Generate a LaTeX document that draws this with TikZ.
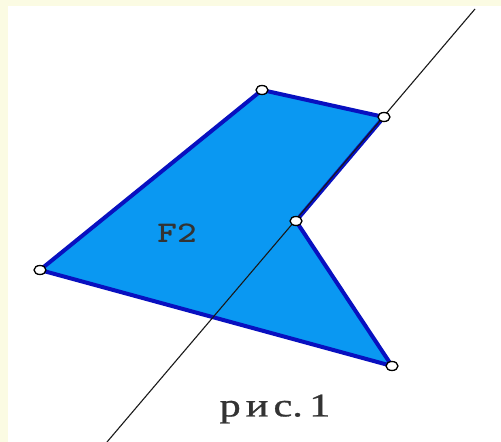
\documentclass[tikz,border=0pt]{standalone}
\usepackage{fontspec}
\usetikzlibrary{shapes.geometric}
\newfontfamily\capfont[FakeBold=0.8]{Liberation Serif}
\definecolor{cream}{HTML}{FBFBE3}
\definecolor{figfill}{HTML}{0A98F2}
\definecolor{figedge}{HTML}{0810C0}
\begin{document}
\begin{tikzpicture}[x=1pt,y=-1pt,
  vertex/.style={ellipse,draw=black,fill=white,line width=1.3pt,minimum width=12pt,minimum height=9pt,inner sep=0pt},
  axis/.style={draw=black!90,line width=1.1pt},
  figure/.style={fill=figfill,draw=figedge,line width=4pt,line join=round},
  lbl/.style={text=black!80,inner sep=0pt}]
\useasboundingbox (0,0) rectangle (501,442);
\fill[cream] (0,0) rectangle (501,442);
\fill[white] (8,6) rectangle (501,442);
\coordinate (T) at (262,90);
\coordinate (R) at (384,117);
\coordinate (I) at (296,221);
\coordinate (B) at (392,366);
\coordinate (L) at (40,270);
\coordinate (A1) at (475,9);
\coordinate (A2) at (107,442);
\path[figure] (T) -- (R) -- (I) -- (B) -- (L) -- cycle;
\draw[axis] (A1) -- (A2);
\foreach \p in {T,R,I,B,L} \node[vertex] (v\p) at (\p) {};
\node[lbl,font=\fontsize{30}{30}\selectfont\ttfamily\bfseries,xscale=1.25] (f2) at (177,233) {F2};
\node[lbl,font=\fontsize{33}{33}\capfont,xscale=1.28] (cap) at (275,409) {р\hspace{4pt}и\hspace{4pt}с.\hspace{5pt}1};
\end{tikzpicture}
\end{document}
